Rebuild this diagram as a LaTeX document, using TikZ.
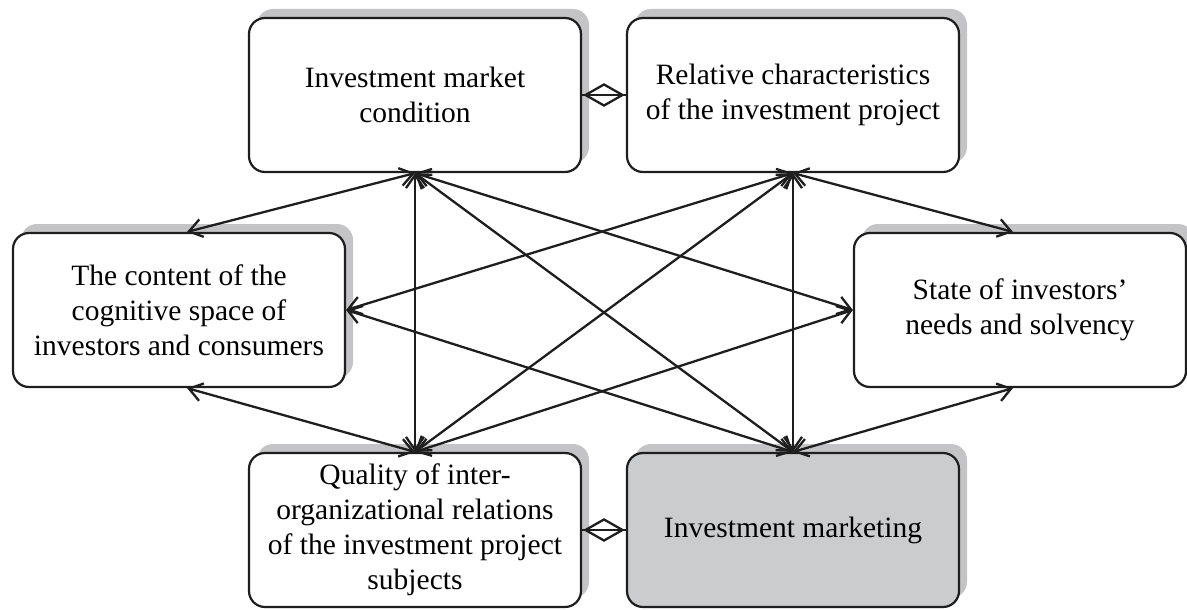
\documentclass[tikz,border=0pt]{standalone}
\usepackage{fontspec}
\setmainfont{Liberation Serif}
\usetikzlibrary{arrows.meta,shapes.geometric,shadows,calc}
\definecolor{shade}{RGB}{196,196,198}
\definecolor{focus}{RGB}{203,204,206}
\definecolor{ink}{RGB}{30,30,30}

\begin{document}
\begin{tikzpicture}[x=1pt,y=-1pt,
  box/.style={draw=ink, line width=2.2pt, rounded corners=16pt, fill=white,
    minimum width=332pt, minimum height=154pt, align=center, inner sep=4pt,
    font=\fontsize{29.5}{35}\selectfont,
    general shadow={fill=shade, shadow xshift=8pt, shadow yshift=9pt}},
  link/.style={<->, line width=2.3pt, draw=ink, >={Straight Barb[length=13pt,width=18pt]}},
  joint/.style={draw=ink, line width=2.3pt, diamond, minimum width=38pt,
    minimum height=22pt, inner sep=0pt}]
\useasboundingbox (0,0) rectangle (1187,610);

% factor boxes
\node[box] (A) at (415,95)  {Investment market\\condition};
\node[box] (B) at (793,95)  {Relative characteristics\\of the investment project};
\node[box] (C) at (179,310) {The content of the\\cognitive space of\\investors and consumers};
\node[box] (D) at (1020,310) {State of investors’\\needs and solvency};
\node[box] (E) at (415,530) {Quality of inter-\\organizational relations\\of the investment project\\subjects};
\node[box, fill=focus] (F) at (793,530) {Investment marketing};

% diamond joints between neighbouring boxes
\node[joint] (j1) at ($(A.east)!0.5!(B.west)$) {};
\draw[ink, line width=2.3pt] (A.east) -- (B.west);
\node[joint] (j2) at ($(E.east)!0.5!(F.west)$) {};
\draw[ink, line width=2.3pt] (E.east) -- (F.west);

% mutual influences
\draw[link] (A.south) -- ([xshift=8pt]C.north);
\draw[link] (A.south) -- (E.north);
\draw[link] (A.south) -- (D.west);
\draw[link] (A.south) -- (F.north);
\draw[link] (B.south) -- ([xshift=-7pt]D.north);
\draw[link] (B.south) -- (F.north);
\draw[link] (B.south) -- (C.east);
\draw[link] (B.south) -- (E.north);
\draw[link] (C.east) -- (F.north);
\draw[link] ([xshift=8pt]C.south) -- (E.north);
\draw[link] ([xshift=-7pt]D.south) -- (F.north);
\draw[link] (E.north) -- (D.west);
\end{tikzpicture}
\end{document}
